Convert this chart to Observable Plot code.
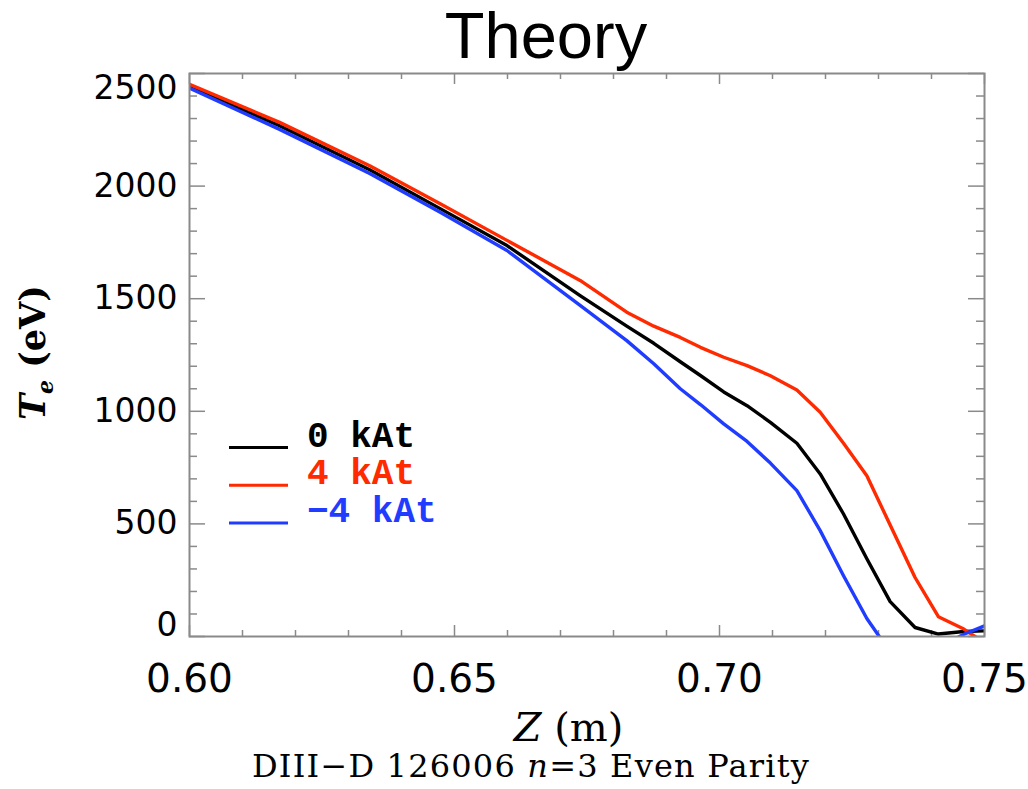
<!DOCTYPE html>
<html>
<head>
<meta charset="utf-8">
<script src="https://cdn.jsdelivr.net/npm/d3@7"></script>
<script src="https://cdn.jsdelivr.net/npm/@observablehq/plot@0.6"></script>
<style>
  html, body { margin: 0; padding: 0; background: #fff; }
  #chart svg { display: block; }
  g[aria-label="y-tick-labels"] text { letter-spacing: 2.5px; }
</style>
</head>
<body>
<div id="chart"></div>
<script>
// Vertical position Z (m) at which each electron temperature profile is sampled
const z = [0.600, 0.617, 0.634, 0.6473, 0.6599, 0.6737, 0.6825, 0.6876, 0.6926, 0.6964,
           0.7008, 0.7052, 0.7096, 0.7146, 0.7190, 0.7234, 0.7278, 0.7322, 0.7369, 0.7413,
           0.7461, 0.7500];
// Te (eV) for coil currents of 0, 4 and -4 kAt
const te0  = [2443, 2268, 2073, 1900, 1736, 1514, 1378, 1302, 1220, 1159,
              1086, 1025,  951,  858,  722,  544,  345,  155,   40,   11,
                22,   25];
const te4  = [2452, 2283, 2090, 1922, 1759, 1581, 1440, 1378, 1328, 1284,
              1240, 1203, 1158, 1095,  996,  858,  714,  495,  262,   88,
                33,  -28];
const teM4 = [2435, 2252, 2056, 1884, 1714, 1470, 1314, 1211, 1100, 1030,
               944,  866,  770,  648,  470,  270,   80,  -70, -110,  -50,
                10,   47];

const seriesNames  = ["0 kAt", "4 kAt", "\u22124 kAt"];
const seriesColors = ["#000000", "#ff2a00", "#1f3cff"];
const seriesValues = [te0, te4, teM4];

const xTicks = [0.60, 0.65, 0.70, 0.75];
const xTickLabels = ["0.60", "0.65", "0.70", "0.75"];
const yTicks = [0, 500, 1000, 1500, 2000, 2500];
const yTickLabels = ["0", "500", "1000", "1500", "2000", "2500"];

const titleText = "Theory";
const captionText = ["DIII\u2212D 126006 ", "n", "=3 Even Parity"];

// Layout
const width = 1028, height = 789;
const margin = {top: 73, right: 44, bottom: 153, left: 189};
const plotW = width - margin.left - margin.right;
const plotH = height - margin.top - margin.bottom;
const axisGrey = "#8a8a8a";

const xMinor = d3.range(60, 76).map(d => d / 100).filter(d => !xTicks.some(t => Math.abs(t - d) < 1e-9));
const yMinor = d3.range(0, 2501, 100).filter(d => d % 500 !== 0);

const rows = seriesValues.map((vals, i) => vals.map((te, j) => ({z: z[j], te, series: seriesNames[i]})));

// Inward-pointing ticks on all four sides of the frame
function yTickRules(values, len) {
  return [
    Plot.ruleY(values, {insetRight: plotW - len, stroke: axisGrey, strokeWidth: 1.5}),
    Plot.ruleY(values, {insetLeft: plotW - len, stroke: axisGrey, strokeWidth: 1.5})
  ];
}
function xTickRules(values, len) {
  return [
    Plot.ruleX(values, {insetTop: plotH - len, stroke: axisGrey, strokeWidth: 1.5}),
    Plot.ruleX(values, {insetBottom: plotH - len, stroke: axisGrey, strokeWidth: 1.5})
  ];
}

const yMid = yTicks.slice(1, -1);

const chart = Plot.plot({
  width, height,
  marginTop: margin.top, marginRight: margin.right,
  marginBottom: margin.bottom, marginLeft: margin.left,
  style: {background: "#fff", overflow: "visible"},
  x: {domain: [0.60, 0.75], axis: null},
  y: {domain: [0, 2500], axis: null},
  marks: [
    ...yTickRules(yMinor, 8),
    ...yTickRules(yTicks, 16),
    ...xTickRules(xMinor, 6),
    ...xTickRules(xTicks, 11),
    ...rows.map((r, i) => Plot.line(r, {
      x: "z", y: "te", stroke: seriesColors[i], strokeWidth: 3.4, clip: true,
      strokeLinejoin: "round"
    })),
    Plot.frame({stroke: axisGrey, strokeWidth: 2}),
    // x tick labels
    Plot.text(xTicks, {
      x: d => d, text: (d, i) => xTickLabels[i], frameAnchor: "bottom",
      lineAnchor: "top", dy: 28, fontSize: 39, fontFamily: "DejaVu Sans", fill: "#000"
    }),
    // y tick labels (end labels are nudged inside the frame)
    Plot.text(yMid, {
      y: d => d, text: d => yTickLabels[yTicks.indexOf(d)], frameAnchor: "left",
      textAnchor: "end", lineAnchor: "middle", dx: -12, fontSize: 33,
      fontFamily: "DejaVu Sans", fill: "#000", ariaLabel: "y-tick-labels"
    }),
    Plot.text([yTicks[0]], {
      y: d => d, text: [yTickLabels[0]], frameAnchor: "left",
      textAnchor: "end", lineAnchor: "middle", dx: -12, dy: -11, fontSize: 33,
      fontFamily: "DejaVu Sans", fill: "#000", ariaLabel: "y-tick-labels"
    }),
    Plot.text([yTicks[yTicks.length - 1]], {
      y: d => d, text: [yTickLabels[yTickLabels.length - 1]], frameAnchor: "left",
      textAnchor: "end", lineAnchor: "middle", dx: -12, dy: 15, fontSize: 33,
      fontFamily: "DejaVu Sans", fill: "#000", ariaLabel: "y-tick-labels"
    }),
    // title
    Plot.text([titleText], {
      text: d => d, frameAnchor: "top", lineAnchor: "bottom", dx: -41, dy: -16,
      fontSize: 65, fontFamily: "Liberation Sans", fill: "#000"
    })
  ]
});

document.getElementById("chart").appendChild(chart);

const svg = d3.select(chart);

// x-axis title: italic Z followed by upright unit
const xt = svg.append("text")
  .attr("x", margin.left + plotW / 2 - 18)
  .attr("y", margin.top + plotH + 105)
  .attr("text-anchor", "middle")
  .attr("font-family", "DejaVu Serif")
  .attr("font-size", 40)
  .attr("fill", "#000");
xt.append("tspan").attr("font-style", "italic").text("Z");
xt.append("tspan").text(" (m)");

// y-axis title: bold italic T with subscript e, then (eV)
const yt = svg.append("text")
  .attr("transform", `translate(45,420) rotate(-90)`)
  .attr("text-anchor", "start")
  .attr("font-family", "DejaVu Serif")
  .attr("font-weight", "bold")
  .attr("font-size", 35)
  .attr("fill", "#000");
yt.append("tspan").attr("font-style", "italic").text("T");
yt.append("tspan").attr("font-style", "italic").attr("font-size", 22).attr("dy", 8).text("e");
yt.append("tspan").attr("dy", -8).text(" (eV)");

// caption below the axis title
const cap = svg.append("text")
  .attr("x", 252)
  .attr("y", margin.top + plotH + 141)
  .attr("text-anchor", "start")
  .attr("font-family", "DejaVu Serif")
  .attr("font-size", 32)
  .attr("letter-spacing", "1.2px")
  .attr("fill", "#000");
cap.append("tspan").text(captionText[0]);
cap.append("tspan").attr("font-style", "italic").text(captionText[1]);
cap.append("tspan").text(captionText[2]);

// legend: short line sample with a coloured label for each series
const legend = svg.append("g").attr("aria-label", "legend");
seriesNames.forEach((name, i) => {
  const yy = 447.5 + i * 37.8;
  legend.append("line")
    .attr("x1", 229).attr("x2", 288).attr("y1", yy).attr("y2", yy)
    .attr("stroke", seriesColors[i]).attr("stroke-width", 3);
  legend.append("text")
    .attr("x", 307).attr("y", yy - 1)
    .attr("text-anchor", "start")
    .attr("font-family", "Liberation Mono")
    .attr("font-weight", "bold")
    .attr("font-size", 36)
    .attr("fill", seriesColors[i])
    .text(name);
});
</script>
</body>
</html>
